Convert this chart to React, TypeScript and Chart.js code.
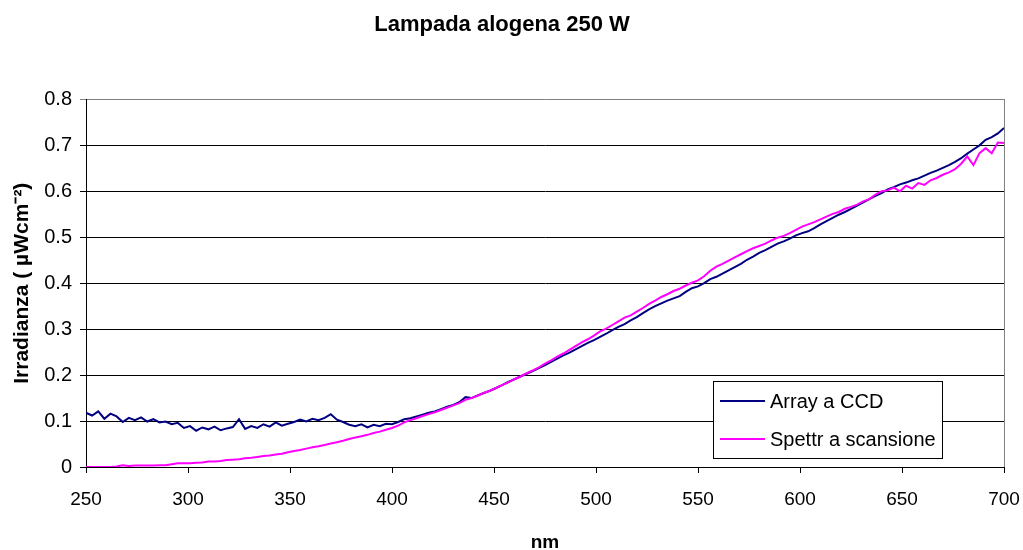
import React, { useEffect, useRef } from "react";
import { Chart, registerables } from "chart.js";

Chart.register(...registerables);

const TITLE = "Lampada alogena 250 W";
const X_TITLE = "nm";
const Y_TITLE = "Irradianza ( µWcm⁻²)";
const SERIES_NAMES = ["Array a CCD", "Spettr a scansione"];
const SERIES_COLORS = ["#000080", "#FF00FF"];
const X_MIN = 250;
const X_MAX = 700;
const X_STEP_TICK = 50;
const Y_MIN = 0;
const Y_MAX = 0.8;
const Y_STEP_TICK = 0.1;
const WL_START = 250;
const WL_STEP = 3;

// Array a CCD, sampled every 3 nm from 250 to 700 nm
const ccd = [
  0.118, 0.112, 0.121, 0.105, 0.116, 0.110, 0.098, 0.107, 0.102, 0.108,
  0.099, 0.104, 0.097, 0.099, 0.093, 0.096, 0.085, 0.089, 0.079, 0.086,
  0.082, 0.088, 0.080, 0.084, 0.087, 0.104, 0.083, 0.089, 0.085, 0.093,
  0.088, 0.097, 0.090, 0.094, 0.098, 0.103, 0.099, 0.105, 0.102, 0.107,
  0.115, 0.103, 0.098, 0.092, 0.089, 0.093, 0.086, 0.092, 0.089, 0.094,
  0.093, 0.098, 0.104, 0.106, 0.110, 0.114, 0.118, 0.121, 0.126, 0.131,
  0.135, 0.141, 0.152, 0.150, 0.156, 0.161, 0.166, 0.172, 0.178, 0.185,
  0.191, 0.197, 0.203, 0.209, 0.215, 0.222, 0.229, 0.236, 0.243, 0.249,
  0.256, 0.263, 0.270, 0.276, 0.283, 0.290, 0.298, 0.305, 0.311, 0.319,
  0.326, 0.335, 0.343, 0.350, 0.356, 0.362, 0.367, 0.372, 0.381, 0.389,
  0.393, 0.400, 0.409, 0.414, 0.421, 0.428, 0.435, 0.442, 0.451, 0.458,
  0.466, 0.472, 0.479, 0.486, 0.491, 0.497, 0.504, 0.509, 0.513, 0.520,
  0.528, 0.535, 0.542, 0.549, 0.555, 0.562, 0.569, 0.576, 0.583, 0.590,
  0.596, 0.604, 0.609, 0.615, 0.619, 0.624, 0.628, 0.634, 0.640, 0.645,
  0.651, 0.657, 0.664, 0.672, 0.682, 0.691, 0.700, 0.712, 0.718, 0.726,
  0.738,
];

// Spettr a scansione, sampled every 3 nm from 250 to 700 nm
const scan = [
  0.000, 0.000, 0.000, 0.000, 0.000, 0.001, 0.004, 0.002, 0.003, 0.003,
  0.003, 0.003, 0.004, 0.004, 0.006, 0.008, 0.008, 0.008, 0.009, 0.010,
  0.012, 0.012, 0.013, 0.015, 0.016, 0.017, 0.019, 0.020, 0.022, 0.024,
  0.025, 0.027, 0.029, 0.032, 0.035, 0.037, 0.040, 0.043, 0.045, 0.048,
  0.051, 0.054, 0.057, 0.061, 0.064, 0.067, 0.070, 0.074, 0.077, 0.081,
  0.085, 0.090, 0.097, 0.102, 0.106, 0.111, 0.115, 0.119, 0.124, 0.129,
  0.134, 0.139, 0.146, 0.150, 0.155, 0.161, 0.166, 0.172, 0.178, 0.184,
  0.191, 0.197, 0.204, 0.210, 0.217, 0.225, 0.232, 0.240, 0.247, 0.255,
  0.263, 0.271, 0.278, 0.286, 0.295, 0.301, 0.309, 0.317, 0.325, 0.330,
  0.338, 0.346, 0.355, 0.362, 0.370, 0.376, 0.383, 0.388, 0.395, 0.401,
  0.406, 0.415, 0.427, 0.436, 0.442, 0.449, 0.456, 0.463, 0.470, 0.476,
  0.481, 0.486, 0.493, 0.499, 0.503, 0.509, 0.516, 0.523, 0.528, 0.533,
  0.539, 0.545, 0.551, 0.555, 0.562, 0.566, 0.571, 0.578, 0.583, 0.593,
  0.600, 0.602, 0.608, 0.600, 0.612, 0.606, 0.618, 0.614, 0.624, 0.629,
  0.636, 0.641, 0.648, 0.660, 0.676, 0.657, 0.683, 0.694, 0.683, 0.706,
  0.705,
];

const wavelengths = ccd.map((_, i) => WL_START + i * WL_STEP);

const FONT = "'Liberation Sans', Arial, sans-serif";

const frameAndLegend = {
  id: "frameAndLegend",
  afterDatasetsDraw(chart: any) {
    const { ctx, chartArea } = chart;
    ctx.save();
    // right border of plot area
    ctx.strokeStyle = "#808080";
    ctx.lineWidth = 1;
    ctx.beginPath();
    const rx = Math.round(chartArea.right) + 0.5;
    ctx.moveTo(rx, Math.round(chartArea.top));
    ctx.lineTo(rx, Math.round(chartArea.bottom));
    ctx.stroke();

    // legend box
    const bx = 713.5, by = 381.5, bw = 229, bh = 77;
    ctx.fillStyle = "#ffffff";
    ctx.fillRect(bx, by, bw, bh);
    ctx.strokeStyle = "#000000";
    ctx.lineWidth = 1;
    ctx.strokeRect(bx, by, bw, bh);
    const rows = [401, 439];
    SERIES_NAMES.forEach((name, i) => {
      ctx.strokeStyle = SERIES_COLORS[i];
      ctx.lineWidth = 2;
      ctx.beginPath();
      ctx.moveTo(720, rows[i]);
      ctx.lineTo(765, rows[i]);
      ctx.stroke();
      ctx.fillStyle = "#000000";
      ctx.font = `20px ${FONT}`;
      ctx.textBaseline = "middle";
      ctx.textAlign = "left";
      ctx.fillText(name, 770, rows[i] + 1);
    });
    ctx.restore();
  },
};

export default function App() {
  const canvasRef = useRef<HTMLCanvasElement | null>(null);

  useEffect(() => {
    const canvas = canvasRef.current;
    if (!canvas) return;
    const chart = new Chart(canvas, {
      type: "line",
      data: {
        datasets: [
          {
            label: SERIES_NAMES[0],
            data: wavelengths.map((x, i) => ({ x, y: ccd[i] })),
            borderColor: SERIES_COLORS[0],
            borderWidth: 2,
            pointRadius: 0,
            tension: 0,
            fill: false,
            order: 1,
          },
          {
            label: SERIES_NAMES[1],
            data: wavelengths.map((x, i) => ({ x, y: scan[i] })),
            borderColor: SERIES_COLORS[1],
            borderWidth: 2,
            pointRadius: 0,
            tension: 0,
            fill: false,
            order: 0,
          },
        ],
      },
      options: {
        animation: false,
        responsive: false,
        devicePixelRatio: 1,
        layout: { padding: { left: 0, right: 19, top: 0, bottom: 0 } },
        plugins: {
          legend: { display: false },
          tooltip: { enabled: false },
          title: {
            display: true,
            text: TITLE,
            color: "#000000",
            font: { family: FONT, size: 22, weight: "bold" },
            padding: { top: 12, bottom: 61 },
          },
        },
        scales: {
          x: {
            type: "linear",
            min: X_MIN,
            max: X_MAX,
            afterFit: (s: any) => {
              s.height = 83;
              s.paddingLeft = 0;
              s.paddingRight = 0;
            },
            ticks: {
              stepSize: X_STEP_TICK,
              color: "#000000",
              font: { family: FONT, size: 19 },
              padding: 15,
              maxRotation: 0,
            },
            grid: {
              drawOnChartArea: false,
              drawTicks: true,
              tickLength: 6,
              color: "#000000",
            },
            border: { display: true, color: "#000000", width: 1 },
            title: {
              display: true,
              text: X_TITLE,
              color: "#000000",
              font: { family: FONT, size: 19, weight: "bold" },
              padding: { top: 0, bottom: -4 },
            },
          },
          y: {
            type: "linear",
            min: Y_MIN,
            max: Y_MAX,
            afterFit: (s: any) => {
              s.width = 86;
            },
            ticks: {
              stepSize: Y_STEP_TICK,
              color: "#000000",
              font: { family: FONT, size: 20 },
              padding: 8,
            },
            grid: {
              drawOnChartArea: true,
              drawTicks: true,
              tickLength: 6,
              color: (c: any) =>
                c.tick && Math.abs(c.tick.value - Y_MAX) < 1e-9 ? "#808080" : "#000000",
              lineWidth: 1,
            },
            border: { display: true, color: "#000000", width: 1 },
            title: {
              display: true,
              text: Y_TITLE,
              color: "#000000",
              font: { family: FONT, size: 21, weight: "bold" },
              padding: { top: 10, bottom: 0 },
            },
          },
        },
      },
      plugins: [frameAndLegend],
    });
    return () => chart.destroy();
  }, []);

  return (
    <div style={{ position: "absolute", left: 0, top: 0, width: 1023, height: 550, background: "#ffffff" }}>
      <canvas ref={canvasRef} width={1023} height={550} style={{ display: "block" }} />
    </div>
  );
}
